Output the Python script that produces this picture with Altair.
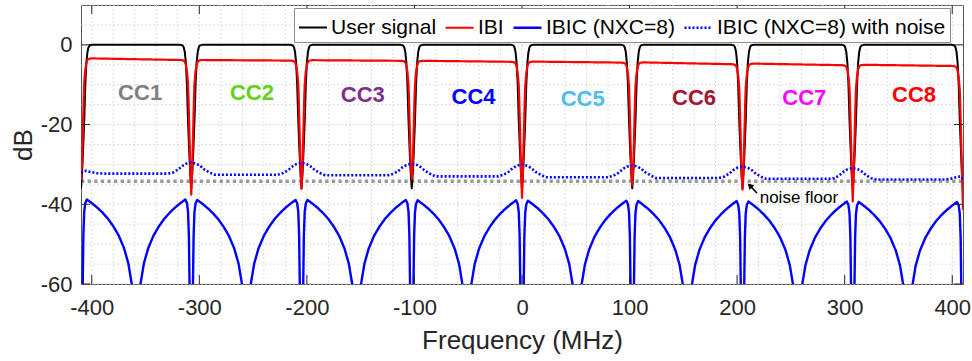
import altair as alt
import pandas as pd

FONT = "Liberation Sans"

# ---- spectrum data (MHz / dB) ----
SERIES = ["User signal", "IBI", "IBIC (NXC=8)", "IBIC (NXC=8) with noise"]

# component-carrier boundaries: 8 CCs side by side
BOUNDARIES = [-410, -307.5, -205, -102.5, 0, 102.5, 205, 307.5, 410]

# user signal roll-off next to a boundary (offset from boundary -> dB)
USER_EDGE_OFFSET = [0, 1, 2, 3, 4, 5, 6, 7, 8, 10]
USER_EDGE_DB = [-36, -32, -26, -19, -10, -4.5, -1.8, -0.6, -0.15, 0]

# IBI: passband level at the left / right end of each CC and depth of each notch
IBI_LEFT_DB = [-3.4, -3.8, -3.85, -4.0, -4.2, -4.4, -4.7, -5.0]
IBI_RIGHT_DB = [-3.8, -3.95, -4.0, -4.25, -4.45, -4.85, -5.1, -5.3]
IBI_NOTCH_DB = [-33.8, -37.6, -36.1, -33.6, -38.4, -35.1, -36.3, -39.3, -41.4]
IBI_EDGE_OFFSET = [1, 1.8, 2.5, 3, 4, 5, 6, 7.5, 10]
IBI_EDGE_REL = [-26, -17.5, -10, -6, -2.8, -1.2, -0.4, -0.1, 0]

# IBIC (NXC=8): one arch per half CC, peak level of each CC
IBIC_PEAK_DB = [-38.8, -38.9, -38.9, -39.0, -39.1, -39.2, -39.3, -39.4]
IBIC_OFFSET = [0, 0.8, 1.6, 2.2, 3, 4, 5.5, 10, 15, 20, 25, 30, 35, 40, 44, 47.5, 49.5]
IBIC_REL = [-60, -40, -21, -9, -3, -0.9, 0, -0.9, -2.0, -3.3, -4.8, -6.7, -9.0,
            -12.2, -16.0, -21.7, -30]
IBIC_CENTER_REL = -45

# IBIC with noise: in-band level per CC, bump at each inner boundary
NOISY_LEVEL_DB = [-32.3, -32.6, -32.7, -33.0, -33.2, -33.4, -33.6, -33.8]
NOISY_BUMP_DB = [-29.5, -29.6, -29.8, -30.0, -30.2, -30.5, -30.9]
NOISY_BUMP_OFFSET = [0, 5, 8.5, 12.5, 17]
NOISY_BUMP_REL = [0, -0.35, -0.9, -1.85, -2.55]
NOISY_LEFT_OFFSET = [0, 2, 5, 9, 15]
NOISY_LEFT_DB = [-32.1, -31.8, -31.6, -31.9, -32.2]
NOISY_RIGHT_OFFSET = [0, 2, 5, 10, 17]
NOISY_RIGHT_DB = [-33.6, -33.0, -33.1, -33.5, -33.8]

NOISE_FLOOR_DB = -34.2

# CC labels
CC_NAMES = ["CC1", "CC2", "CC3", "CC4", "CC5", "CC6", "CC7", "CC8"]
CC_COLORS = ["#808080", "#62d01c", "#7e2f8e", "#0000ff", "#4dbeee", "#a2142f",
             "#ff00ff", "#ff0000"]
CC_LABEL_FREQ = [-375.5, -271.5, -168.5, -65.5, 36, 139.5, 242, 344]
CC_LABEL_DB = [-12.2, -12.2, -12.6, -13.1, -13.5, -13.3, -13.3, -12.7]

# ---- build the long table of line points ----
rows = []


def add(series, pts):
    for f, d in pts:
        rows.append({"freq": f, "db": d, "series": series, "seq": len(rows)})


n_cc = len(BOUNDARIES) - 1
user, ibi, ibic, noisy = [], [], [], []
for i in range(n_cc):
    b0, b1 = BOUNDARIES[i], BOUNDARIES[i + 1]
    c = (b0 + b1) / 2

    user += [(b0 + o, d) for o, d in zip(USER_EDGE_OFFSET, USER_EDGE_DB)]
    user += [(b1 - o, d) for o, d in reversed(list(zip(USER_EDGE_OFFSET, USER_EDGE_DB)))]

    ibi.append((b0, IBI_NOTCH_DB[i]))
    ibi += [(b0 + o, IBI_LEFT_DB[i] + r) for o, r in zip(IBI_EDGE_OFFSET, IBI_EDGE_REL)]
    ibi += [(b1 - o, IBI_RIGHT_DB[i] + r)
            for o, r in reversed(list(zip(IBI_EDGE_OFFSET, IBI_EDGE_REL)))]
    ibi.append((b1, IBI_NOTCH_DB[i + 1]))

    pk = IBIC_PEAK_DB[i]
    ibic += [(b0 + o, pk + r) for o, r in zip(IBIC_OFFSET, IBIC_REL)]
    ibic.append((c, pk + IBIC_CENTER_REL))
    ibic += [(b1 - o, pk + r) for o, r in reversed(list(zip(IBIC_OFFSET, IBIC_REL)))]

    lvl = NOISY_LEVEL_DB[i]
    if i == 0:
        noisy += [(b0 + o, d) for o, d in zip(NOISY_LEFT_OFFSET, NOISY_LEFT_DB)]
    else:
        noisy += [(b0 + o, NOISY_BUMP_DB[i - 1] + r)
                  for o, r in zip(NOISY_BUMP_OFFSET, NOISY_BUMP_REL)]
    noisy += [(b0 + 22, lvl), (c, lvl), (b1 - 22, lvl)]
    if i == n_cc - 1:
        noisy += [(b1 - o, d)
                  for o, d in reversed(list(zip(NOISY_RIGHT_OFFSET, NOISY_RIGHT_DB)))]
    else:
        noisy += [(b1 - o, NOISY_BUMP_DB[i] + r)
                  for o, r in reversed(list(zip(NOISY_BUMP_OFFSET, NOISY_BUMP_REL)))]

add(SERIES[0], user)
add(SERIES[1], ibi)
add(SERIES[2], ibic)
add(SERIES[3], noisy)
lines_df = pd.DataFrame(rows)

X_DOMAIN = [-410, 410]
Y_DOMAIN = [-60, 10]
X_TICKS = [-400, -300, -200, -100, 0, 100, 200, 300, 400]
Y_TICKS = [-60, -40, -20, 0]
GRID_X = list(range(-400, 401, 20))
GRID_Y = list(range(-60, 11, 5))

W, H = 882, 279
xs = alt.Scale(domain=X_DOMAIN, nice=False, zero=False)
ys = alt.Scale(domain=Y_DOMAIN, nice=False, zero=False)

grid_style = dict(color="#d2d2d2", strokeWidth=1, strokeDash=[1.5, 2.5])
grid_v = alt.Chart(pd.DataFrame({"g": GRID_X})).mark_rule(**grid_style).encode(
    x=alt.X("g:Q", scale=xs))
grid_h = alt.Chart(pd.DataFrame({"g": GRID_Y})).mark_rule(**grid_style).encode(
    y=alt.Y("g:Q", scale=ys))

floor = alt.Chart(pd.DataFrame({"a": [X_DOMAIN[0]], "b": [X_DOMAIN[1]],
                                "y": [NOISE_FLOOR_DB]})).mark_rule(
    color="#9a9a9a", strokeWidth=3.5, strokeDash=[3.3, 3.3]).encode(
    x=alt.X("a:Q", scale=xs), x2="b:Q", y=alt.Y("y:Q", scale=ys))

legend = alt.Legend(
    title=None, orient="none", legendX=213, legendY=3, direction="horizontal",
    symbolType="stroke", symbolSize=784, symbolStrokeWidth=2,
    labelFont=FONT, labelFontSize=21, labelColor="#000000", labelOffset=3,
    labelLimit=400, columnPadding=4, padding=4,
    fillColor="#ffffff", strokeColor="#8c8c8c",
)

lines = alt.Chart(lines_df).mark_line(clip=True, strokeJoin="round").encode(
    x=alt.X("freq:Q", scale=xs, title="Frequency (MHz)",
            axis=alt.Axis(values=X_TICKS, labelExpr="'' + datum.value",
                          labelPadding=13, titlePadding=9)),
    y=alt.Y("db:Q", scale=ys, title="dB",
            axis=alt.Axis(values=Y_TICKS, labelExpr="'' + datum.value",
                          labelPadding=9, titlePadding=4)),
    color=alt.Color("series:N", legend=legend,
                    scale=alt.Scale(domain=SERIES,
                                    range=["#000000", "#ff0000", "#0000ff", "#0000ff"])),
    strokeDash=alt.StrokeDash("series:N", legend=legend,
                              scale=alt.Scale(domain=SERIES,
                                              range=[[1, 0], [1, 0], [1, 0], [2, 2]])),
    strokeWidth=alt.StrokeWidth("series:N", legend=None,
                                scale=alt.Scale(domain=SERIES, range=[2, 2.6, 2.2, 2.2])),
    order=alt.Order("seq:Q"),
)

cc_df = pd.DataFrame({"f": CC_LABEL_FREQ, "d": CC_LABEL_DB, "t": CC_NAMES, "c": CC_COLORS})
cc_text = alt.Chart(cc_df).mark_text(font=FONT, fontSize=22, fontWeight="bold",
                                     align="left", baseline="middle").encode(
    x=alt.X("f:Q", scale=xs), y=alt.Y("d:Q", scale=ys), text="t:N",
    fill=alt.Fill("c:N", scale=None))

# "noise floor" call-out with arrow
arrow_df = pd.DataFrame({"x0": [218.5], "y0": [-37.2], "x1": [211.8], "y1": [-35.3]})
arrow_line = alt.Chart(arrow_df).mark_rule(color="black", strokeWidth=1.5).encode(
    x=alt.X("x0:Q", scale=xs), y=alt.Y("y0:Q", scale=ys), x2="x1:Q", y2="y1:Q")
arrow_head = alt.Chart(arrow_df).mark_point(shape="triangle-up", filled=True, size=45,
                                            angle=315, fill="black", opacity=1).encode(
    x=alt.X("x1:Q", scale=xs), y=alt.Y("y1:Q", scale=ys))
note = alt.Chart(pd.DataFrame({"x": [221], "y": [-38.3], "t": ["noise floor"]})).mark_text(
    font=FONT, fontSize=17, align="left", baseline="middle", fill="black").encode(
    x=alt.X("x:Q", scale=xs), y=alt.Y("y:Q", scale=ys), text="t:N")

# inward tick marks on all four sides
tick_style = dict(stroke="#262626", strokeWidth=1)
tx = pd.DataFrame({"v": X_TICKS})
ty = pd.DataFrame({"v": Y_TICKS})
tick_b = alt.Chart(tx).mark_rule(**tick_style).encode(
    x=alt.X("v:Q", scale=xs), y=alt.value(H), y2=alt.value(H - 9))
tick_t = alt.Chart(tx).mark_rule(**tick_style).encode(
    x=alt.X("v:Q", scale=xs), y=alt.value(0), y2=alt.value(9))
tick_l = alt.Chart(ty).mark_rule(**tick_style).encode(
    y=alt.Y("v:Q", scale=ys), x=alt.value(0), x2=alt.value(9))
tick_r = alt.Chart(ty).mark_rule(**tick_style).encode(
    y=alt.Y("v:Q", scale=ys), x=alt.value(W), x2=alt.value(W - 9))

chart = alt.layer(
    grid_v, grid_h, floor, lines, cc_text, arrow_line, arrow_head, note,
    tick_b, tick_t, tick_l, tick_r,
).properties(
    width=W, height=H,
    autosize=alt.AutoSizeParams(type="none"),
    padding={"left": 81, "top": 5, "right": 9, "bottom": 77},
).configure_view(
    stroke="#555555", strokeWidth=1,
).configure_axis(
    labelFont=FONT, titleFont=FONT, labelFontSize=22, titleFontSize=26,
    labelColor="#262626", titleColor="#262626", titleFontWeight="normal",
    grid=False, ticks=False, domain=False,
)

chart.save("out.html", embed_options={"renderer": "svg", "actions": False})
